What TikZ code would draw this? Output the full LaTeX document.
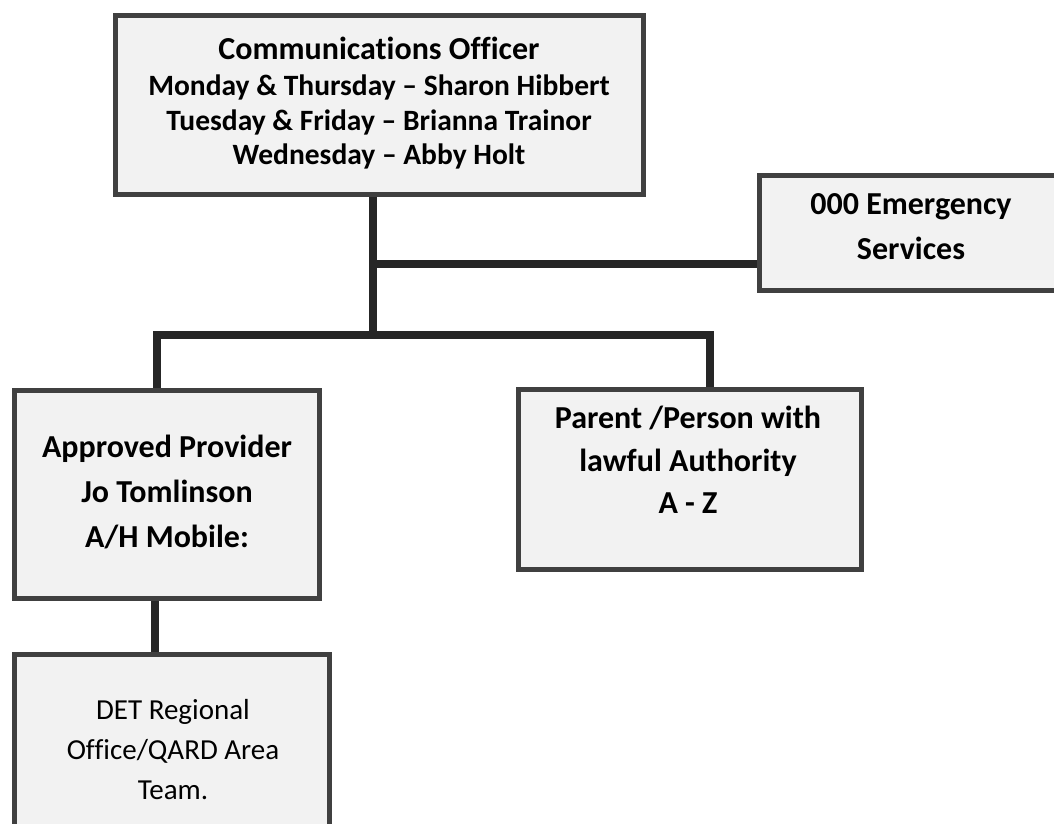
\documentclass[tikz,border=0pt]{standalone}
\usepackage{fontspec}
\setmainfont{Carlito}[Ligatures=NoCommon]
\usetikzlibrary{positioning}
\definecolor{BoxFill}{HTML}{F2F2F2}
\definecolor{BoxBorder}{HTML}{404040}
\definecolor{LineDark}{HTML}{262626}

\begin{document}
\begin{tikzpicture}[x=1pt, y=-1pt,
    box/.style={draw=BoxBorder, line width=5pt, fill=BoxFill, inner sep=0pt},
    txt/.style={align=center, inner sep=0pt, font=\fontsize{32}{42.5}\selectfont\bfseries},
    conn/.style={draw=LineDark, line width=7.5pt}]
            \clip (0,0) rectangle (1054,823);
            
            % Boxes
            \node[box, minimum width=528pt, minimum height=179pt] (officer) at (379.5,105) {};
            \node[box, minimum width=310pt, minimum height=115pt] (emergency) at (914.75,233) {};
            \node[box, minimum width=305pt, minimum height=208pt] (provider) at (167,494.5) {};
            \node[box, minimum width=343pt, minimum height=180pt] (parent) at (690,479.5) {};
            \node[box, minimum width=315pt, minimum height=250pt] (det) at (172,779.5) {};
            
            % Texts
            \node[txt, font=\fontsize{29.5}{34.5}\selectfont\bfseries] (officerT) at (379,103)
                {{\fontsize{32}{34.5}\selectfont Communications Officer}\\[2pt]
                 Monday \& Thursday -- Sharon Hibbert\\
                 Tuesday \& Friday -- Brianna Trainor\\
                 Wednesday -- Abby Holt};
            \node[txt, font=\fontsize{32}{45}\selectfont\bfseries] (emergencyT) at (911,227) {000 Emergency\\Services};
            \node[txt, font=\fontsize{32}{45}\selectfont\bfseries] (providerT) at (167,492) {Approved Provider\\Jo Tomlinson\\A/H Mobile:};
            \node[txt] (parentT) at (688,460) {Parent /Person with\\lawful Authority\\A - Z};
            \node[txt, font=\fontsize{29}{40}\selectfont] (detT) at (173,750) {DET Regional\\Office/QARD Area\\Team.};
            
            % Lines
            \coordinate (hub) at (373,335);
            \coordinate (bend) at (373,264);
            \coordinate (lbar) at (157,335);
            \coordinate (rbar) at (710,335);
            \draw[conn] (officer.south -| hub) -- (hub);
            \draw[conn] (bend) -- (emergency.west |- bend);
            \draw[conn] (lbar |- provider.north) -- (lbar) -- (rbar) -- (rbar |- parent.north);
            \draw[conn] ([xshift=-12pt]provider.south) -- ([xshift=-12pt]provider.south |- det.north);
        \end{tikzpicture}
\end{document}
